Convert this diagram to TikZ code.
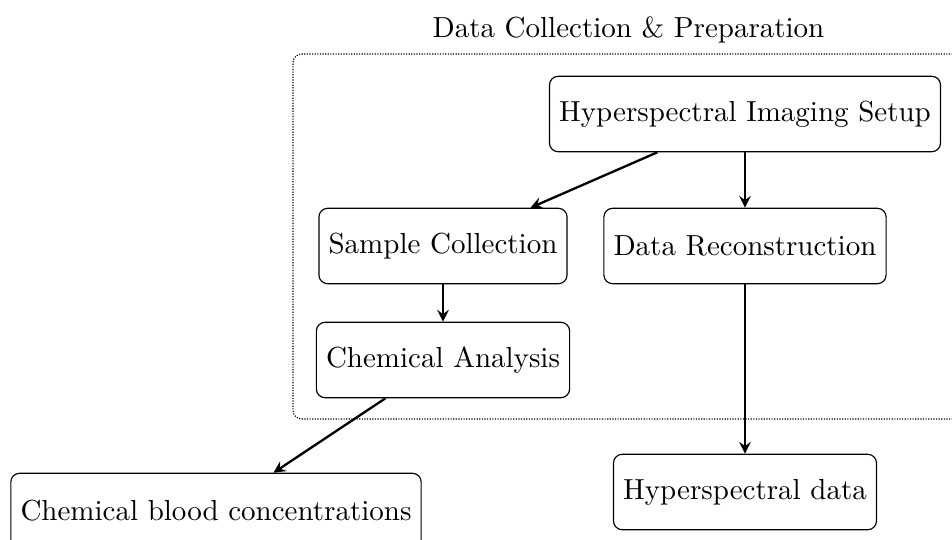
\documentclass[tikz,border=0pt]{standalone}
\usetikzlibrary{fit}
\begin{document}
\begin{tikzpicture}[x=0.3448pt,y=-0.3448pt,
  box/.style={draw, rounded corners=3pt, minimum height=26pt, align=center},
  conn/.style={-stealth, thick},
  grpbox/.style={draw, line width=0.4pt, dash pattern=on 0.4pt off 0.5pt, rounded corners=3pt, inner sep=0pt}]
\clip (0,0) rectangle (952,540);
\coordinate (g1) at (293,54);
\coordinate (g2) at (964,419);
\node[grpbox, fit=(g1)(g2)] (grp) {};
\node[above] (title) at (grp.north) {Data Collection \& Preparation};
\node[box] (his) at (745,114) {Hyperspectral Imaging Setup};
\node[box] (sc) at (443,246) {Sample Collection};
\node[box] (dr) at (745,246) {Data Reconstruction};
\node[box] (ca) at (443,360) {Chemical Analysis};
\node[box] (hd) at (745,492) {Hyperspectral data};
\node[box] (cbc) at (216,511) {Chemical blood concentrations};
\draw[conn] (his) -- (sc);
\draw[conn] (his) -- (dr);
\draw[conn] (sc) -- (ca);
\draw[conn] (ca) -- (cbc);
\draw[conn] (dr) -- (hd);
\end{tikzpicture}
\end{document}
